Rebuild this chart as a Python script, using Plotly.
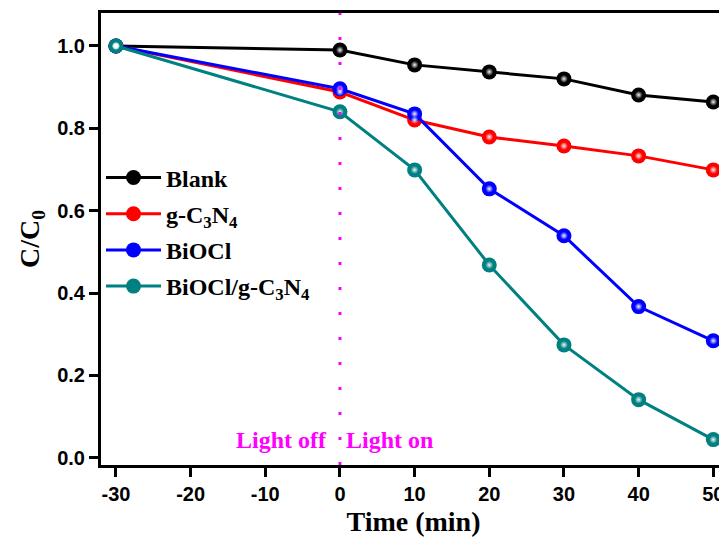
import plotly.graph_objects as go

time = [-30, 0, 10, 20, 30, 40, 50]
blank = [1.0, 0.990, 0.954, 0.937, 0.920, 0.881, 0.864]
gcn = [1.0, 0.888, 0.820, 0.779, 0.757, 0.733, 0.699]
biocl = [1.0, 0.896, 0.835, 0.653, 0.539, 0.367, 0.284]
comp = [1.0, 0.840, 0.699, 0.468, 0.274, 0.141, 0.044]

names = ["Blank", "g-C<sub>3</sub>N<sub>4</sub>", "BiOCl", "BiOCl/g-C<sub>3</sub>N<sub>4</sub>"]
colors = ["#000000", "#FF0000", "#0000FF", "#008080"]
series = [blank, gcn, biocl, comp]

serif = "Liberation Serif, Times New Roman, serif"
sans = "Liberation Sans, Arial, sans-serif"

fig = go.Figure()
for i, (nm, c, ys) in enumerate(zip(names, colors, series)):
    fig.add_trace(go.Scatter(
        x=time, y=ys, name="<b>%s</b>" % nm, mode="lines+markers",
        legendgroup="g%d" % i,
        line=dict(color=c, width=3),
        marker=dict(size=15, color=c, line=dict(width=0)),
    ))
for i, (c, ys) in enumerate(zip(colors, series)):
    fig.add_trace(go.Scatter(
        x=time, y=ys, mode="markers", showlegend=False, hoverinfo="skip",
        legendgroup="g%d" % i,
        marker=dict(size=8, color="rgba(255,255,255,0)",
                    gradient=dict(type="radial", color="rgba(255,255,255,0.95)"),
                    line=dict(width=0)),
    ))

fig.add_shape(type="line", x0=0, x1=0, y0=0, y1=1, yref="paper", xref="x",
              line=dict(color="#FF00FF", width=3, dash="3px,22px"))
fig.add_shape(type="line", x0=0.9985, x1=0.9985, y0=0, y1=1, xref="paper", yref="paper",
              line=dict(color="#999999", width=1))

tfont = dict(family=serif, size=24, color="#FF00FF")
fig.add_annotation(x=-1.4, y=0.043, text="<b>Light off</b>", showarrow=False, xanchor="right", font=tfont)
fig.add_annotation(x=0.6, y=0.043, text="<b>Light on</b>", showarrow=False, xanchor="left", font=tfont)

tick_font = dict(family=sans, size=20, color="black")
xt = [-30, -20, -10, 0, 10, 20, 30, 40, 50]
yt = [0, 0.2, 0.4, 0.6, 0.8, 1.0]
fig.update_layout(
    width=719, height=532,
    margin=dict(l=93, r=1, t=5, b=75),
    plot_bgcolor="white", paper_bgcolor="white",
    showlegend=True,
    legend=dict(x=0.0, y=0.685, xanchor="left", yanchor="top",
                font=dict(family=serif, size=24, color="black"),
                bgcolor="rgba(0,0,0,0)", tracegroupgap=2, itemwidth=55),
    xaxis=dict(range=[-32.0, 51.7], tickvals=xt,
               ticktext=["<b>%d</b>" % v for v in xt],
               showgrid=False, zeroline=False, showline=True, linecolor="black", linewidth=3,
               mirror=True, ticks="outside", ticklen=9, tickwidth=3, tickcolor="black",
               tickfont=tick_font,
               title=dict(text="<b>Time (min)</b>", standoff=8,
                          font=dict(family=serif, size=28, color="black"))),
    yaxis=dict(range=[-0.0177, 1.080], tickvals=yt,
               ticktext=["<b>%.1f</b>" % v for v in yt],
               showgrid=False, zeroline=False, showline=True, linecolor="black", linewidth=3,
               ticks="outside", ticklen=9, tickwidth=3, tickcolor="black",
               tickfont=tick_font,
               title=dict(text="<b>C/C<sub>0</sub></b>", standoff=10,
                          font=dict(family=serif, size=28, color="black"))),
)

fig.write_html("out.html")
